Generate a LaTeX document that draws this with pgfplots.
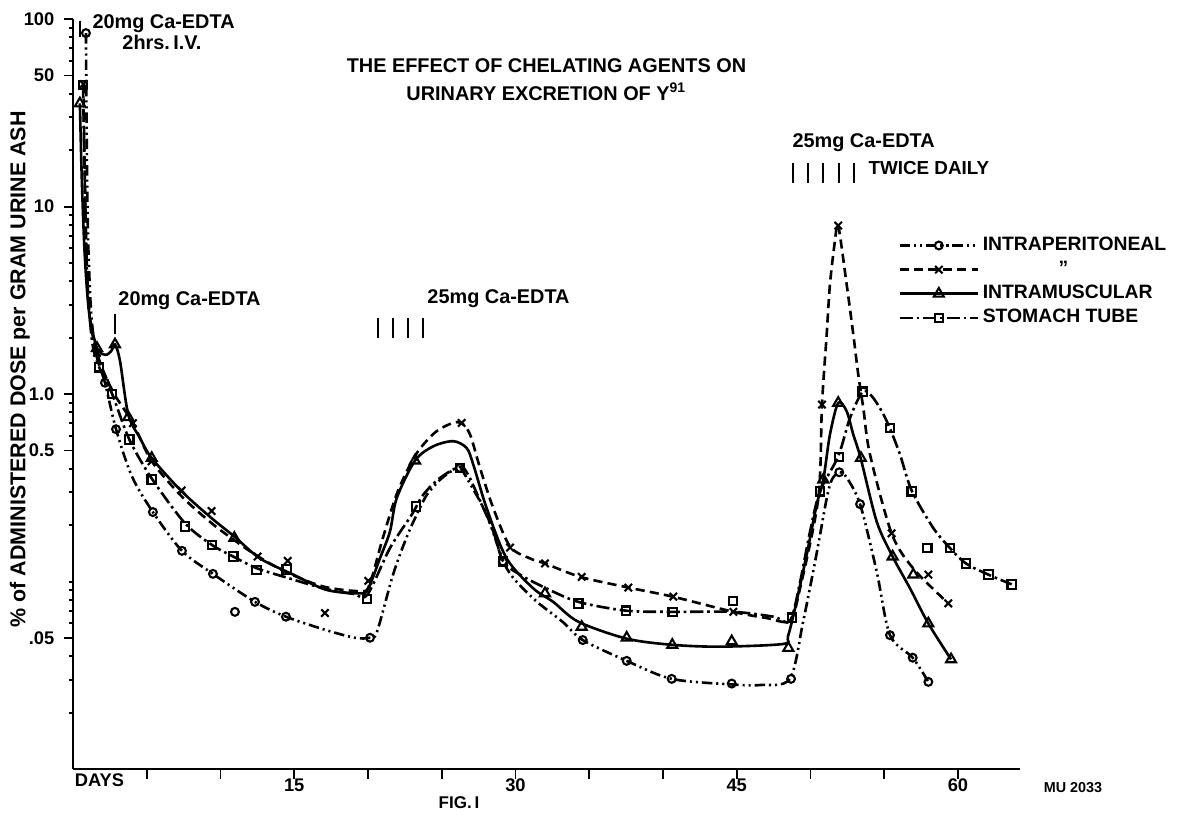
\documentclass[border=0pt]{standalone}
\usepackage{fontspec}
\setmainfont{Liberation Sans}[UprightFont=* Bold]
\usepackage{pgfplots}
\pgfplotsset{compat=1.18}

\pgfplotsset{
  ipline/.style={black, line width=1pt, dash pattern=on 4pt off 1.5pt on 0.8pt off 1.5pt on 0.8pt off 1.5pt},
  xline/.style={black, line width=1pt, dash pattern=on 3.5pt off 2pt},
  imline/.style={black, line width=1pt},
  stline/.style={black, line width=1pt, dash pattern=on 5pt off 1.5pt on 1pt off 1.5pt},
  pts/.style={black, only marks, mark options={solid, line width=0.8pt, fill=white}},
}

\begin{document}
\begin{tikzpicture}
\useasboundingbox (-27.9pt,-17.6pt) rectangle (425.6pt,294.1pt);
\begin{axis}[
  scale only axis, width=362.1pt, height=286.8pt,
  ymode=log, xmin=0, xmax=64.2, ymin=0.01, ymax=100,
  axis lines*=left, axis line style={-, line width=0.8pt},
  clip=false,
  tick align=outside, major tick length=3.6pt, minor tick length=1.6pt,
  every tick/.style={black, line width=0.7pt},
  xtick={5,10,...,60}, xticklabels={,,15,,,30,,,45,,,60},
  ytick={0.05,0.5,1,10,50,100}, yticklabels={.05,0.5,1.0,10,50,100},
  minor ytick={0.02,0.03,0.04,0.06,0.07,0.08,0.09,0.1,0.2,0.3,0.4,0.6,0.7,0.8,0.9,2,3,4,5,6,7,8,9,20,30,40,60,70,80,90},
  tick label style={font=\fontsize{7}{8}\selectfont},
  xticklabel style={yshift=3.5pt},
  legend style={at={(0.871,0.715)}, anchor=north west, draw=none, fill=none,
    inner sep=0pt, row sep=0pt, font=\fontsize{7.4}{8}\selectfont, nodes={inner sep=1.3pt}},
  legend cell align=left,
  legend image code/.code={\draw[#1, mark repeat=2, mark phase=2] plot coordinates {(0pt,0pt) (15pt,0pt) (30pt,0pt)};},
]

% legend
\addlegendimage{ipline, mark=o, mark size=1.5pt, mark options={solid, fill=white, line width=0.8pt}}
\addlegendentry{INTRAPERITONEAL}
\addlegendimage{xline, mark=x, mark size=2pt, mark options={solid, line width=0.8pt}}
\addlegendentry{\hspace*{29pt}"}
\addlegendimage{imline, mark=triangle, mark size=2.2pt, mark options={solid, fill=white, line width=0.8pt}}
\addlegendentry{INTRAMUSCULAR}
\addlegendimage{stline, mark=square, mark size=1.6pt, mark options={solid, fill=white, line width=0.8pt}}
\addlegendentry{STOMACH TUBE}

% intraperitoneal
\addplot[ipline, smooth, forget plot] coordinates {
(0.88,84.2) (0.92,30) (0.97,12) (1.05,5.8) (1.25,2.6) (1.6,1.6) (2.17,1.15) (2.92,0.65)
(4.0,0.364) (5.42,0.235) (7.39,0.146) (9.49,0.110) (12.34,0.078) (14.44,0.065) (17.08,0.0554)
(19.1,0.0502) (20.14,0.0502) (20.61,0.054) (21.7,0.109) (22.6,0.171) (23.3,0.227) (24.0,0.291)
(24.9,0.350) (25.8,0.395) (26.24,0.404) (26.7,0.357) (28.05,0.227) (29.4,0.118) (31.2,0.0814)
(33.2,0.061) (34.56,0.0488) (37.54,0.0378) (40.59,0.0303) (44.66,0.0283) (46.6,0.0281)
(48.6,0.0303) (49.5,0.0611) (50.4,0.139) (51.1,0.278) (51.46,0.351) (51.95,0.383) (52.4,0.364)
(53.36,0.259) (54.49,0.113) (55.39,0.0518) (56.93,0.0393) (57.99,0.0292)};
\addplot[pts, mark=o, mark size=1.5pt, forget plot] coordinates {
(0.88,84.2) (2.17,1.15) (2.92,0.65) (5.42,0.235) (7.39,0.146) (9.49,0.110) (10.98,0.069)
(12.34,0.078) (14.44,0.065) (20.14,0.0502) (26.24,0.404) (29.15,0.128) (34.56,0.0488)
(37.54,0.0378) (40.59,0.0303) (44.66,0.0286) (48.68,0.0303) (51.95,0.383) (53.36,0.259)
(55.39,0.0518) (56.93,0.0393) (57.99,0.0292)};

% ditto (dashed, x)
\addplot[xline, smooth, forget plot] coordinates {
(0.72,45) (0.8,14) (0.93,5) (1.15,2.5) (1.63,1.66) (2.2,1.25) (2.9,0.97) (4.07,0.70)
(5.33,0.44) (7.37,0.285) (9.4,0.205) (11.0,0.165) (12.5,0.137) (14.5,0.112) (17.0,0.094)
(19.5,0.089) (20.1,0.096) (21.0,0.17) (22.0,0.30) (23.2,0.47) (24.5,0.62) (25.7,0.70)
(26.35,0.70) (26.92,0.609) (27.6,0.403) (28.5,0.246) (29.63,0.154) (30.98,0.133) (32.0,0.125)
(34.4,0.106) (37.65,0.093) (40.7,0.083) (44.77,0.069) (47.0,0.064) (48.6,0.062) (49.29,0.092)
(50.53,0.279) (50.78,0.88) (51.1,2.09) (51.32,3.86) (51.66,6.58) (51.88,7.93) (52.45,3.86)
(52.9,2.09) (53.24,1.27) (53.58,0.845) (54.03,0.478) (55.5,0.181) (56.95,0.118) (59.34,0.0766)};
\addplot[pts, mark=x, mark size=2pt, forget plot] coordinates {
(0.72,45) (1.63,1.66) (4.07,0.70) (5.33,0.438) (7.37,0.306) (9.40,0.238) (12.52,0.136)
(14.56,0.129) (17.08,0.068) (20.02,0.101) (26.35,0.702) (29.63,0.152) (32.0,0.125)
(34.49,0.106) (37.65,0.0929) (40.7,0.0832) (44.77,0.069) (50.78,0.880) (51.88,7.93)
(55.5,0.181) (57.99,0.109) (59.34,0.0766)};

% intramuscular
\addplot[imline, smooth, forget plot] coordinates {
(0.47,35.5) (0.6,14) (0.8,5.5) (1.1,2.7) (1.63,1.76) (2.2,1.62) (2.6,1.7) (2.85,1.84)
(3.19,1.50) (3.75,0.778) (4.54,0.584) (5.34,0.456) (7.37,0.303) (9.4,0.218) (10.94,0.174)
(12.68,0.133) (14.94,0.109) (17.2,0.0903) (19.46,0.0866) (20.02,0.092) (20.81,0.133)
(21.49,0.185) (21.95,0.279) (23.19,0.442) (24.43,0.527) (25.78,0.561) (26.69,0.516)
(27.14,0.421) (28.05,0.246) (29.4,0.133) (31.21,0.092) (32.56,0.078) (34.26,0.0611)
(37.56,0.0496) (40.68,0.046) (43.86,0.045) (48.14,0.0465) (48.47,0.051) (48.95,0.0719)
(49.74,0.139) (50.42,0.257) (50.87,0.350) (51.32,0.609) (51.88,0.898) (52.45,0.811)
(52.9,0.609) (53.4,0.456) (54.49,0.209) (55.57,0.136) (56.75,0.092) (57.99,0.0598) (59.53,0.0385)};
\addplot[pts, mark=triangle, mark size=2.2pt, forget plot] coordinates {
(0.47,35.5) (1.63,1.76) (2.85,1.84) (3.75,0.753) (5.34,0.456) (10.94,0.171) (23.19,0.442)
(32.0,0.0866) (34.49,0.0574) (37.54,0.0502) (40.63,0.0460) (44.66,0.048) (48.5,0.0443)
(50.87,0.350) (51.88,0.898) (53.42,0.456) (55.57,0.136) (56.97,0.109) (57.99,0.0598) (59.53,0.0385)};

% stomach tube
\addplot[stline, smooth, forget plot] coordinates {
(0.68,44.4) (0.82,12) (0.98,4) (1.3,1.9) (1.78,1.39) (2.66,1.0) (3.82,0.573) (5.34,0.355)
(7.59,0.205) (9.42,0.157) (10.87,0.136) (12.45,0.118) (14.5,0.105) (17.0,0.092) (19.0,0.086)
(19.95,0.085) (21.49,0.151) (22.96,0.227) (23.75,0.291) (24.88,0.357) (26.24,0.410) (26.8,0.37)
(27.6,0.27) (28.5,0.185) (29.17,0.128) (30.3,0.109) (32.1,0.092) (34.26,0.078) (37.5,0.070)
(40.66,0.069) (44.77,0.069) (47.5,0.065) (48.61,0.0616) (49.3,0.1) (49.97,0.185) (50.64,0.303)
(51.88,0.466) (52.68,0.747) (53.54,1.03) (54.15,0.976) (54.83,0.811) (55.39,0.655) (56.07,0.476)
(56.86,0.306) (58.33,0.193) (59.46,0.151) (60.54,0.125) (62.06,0.109) (63.64,0.0967)};
\addplot[pts, mark=square, mark size=1.6pt, forget plot] coordinates {
(0.68,44.4) (1.78,1.39) (2.66,1.0) (3.82,0.573) (5.34,0.350) (7.59,0.197) (9.42,0.157)
(10.87,0.136) (12.45,0.115) (14.49,0.116) (19.95,0.0806) (23.25,0.252) (26.24,0.404)
(29.17,0.128) (34.26,0.0765) (37.49,0.0700) (40.66,0.0691) (44.73,0.0788) (48.73,0.0642)
(50.64,0.303) (51.93,0.461) (53.54,1.03) (55.39,0.658) (56.86,0.303) (57.92,0.151)
(59.46,0.151) (60.54,0.125) (62.06,0.109) (63.64,0.0967)};

% annotations
\draw[line width=0.8pt] (axis cs:0.47,98) -- (axis cs:0.47,80);
\node[anchor=west, inner sep=0pt, font=\fontsize{7.6}{10.7}\selectfont] at (axis cs:1.29,95) {20mg Ca-EDTA};
\node[anchor=west, inner sep=0pt, font=\fontsize{7.6}{10.7}\selectfont] at (axis cs:3.32,75.3) {2hrs.\,I.V.};
\node[align=center, inner sep=0pt, font=\fontsize{7.6}{10.7}\selectfont] at (axis cs:32.1,47.8)
  {THE EFFECT OF CHELATING AGENTS ON\\URINARY EXCRETION OF Y\textsuperscript{91}};
\draw[line width=0.8pt] (axis cs:2.85,2.68) -- (axis cs:2.85,2.09);
\node[anchor=west, inner sep=0pt, font=\fontsize{7.6}{10.7}\selectfont] at (axis cs:3.05,3.14) {20mg Ca-EDTA};
\pgfplotsinvokeforeach{20.68,21.69,22.71,23.73}{
  \draw[line width=0.8pt] (axis cs:#1,2.55) -- (axis cs:#1,1.99);
}
\node[anchor=west, inner sep=0pt, font=\fontsize{7.6}{10.7}\selectfont] at (axis cs:24.0,3.22) {25mg Ca-EDTA};
\node[anchor=west, inner sep=0pt, font=\fontsize{7.6}{10.7}\selectfont] at (axis cs:48.75,22.0) {25mg Ca-EDTA};
\pgfplotsinvokeforeach{48.8,49.85,50.87,51.95,52.95}{
  \draw[line width=0.8pt] (axis cs:#1,17.0) -- (axis cs:#1,13.4);
}
\node[anchor=west, inner sep=0pt, font=\fontsize{7.2}{9}\selectfont] at (axis cs:53.9,16.0) {TWICE DAILY};
\node[anchor=north west, inner sep=0pt, yshift=-1.5pt, font=\fontsize{7}{8}\selectfont] at (axis cs:0.1,0.01) {DAYS};
\node[inner sep=0pt, font=\fontsize{6.5}{8}\selectfont] at (axis cs:26.17,0.00666) {FIG.\,I};
\node[inner sep=0pt, font=\fontsize{5.5}{7}\selectfont] at (axis cs:67.8,0.0080) {MU 2033};
\node[rotate=90, inner sep=0pt, yshift=20.3pt, font=\fontsize{8.2}{9}\selectfont] at (rel axis cs:0,0.533)
  {\% of ADMINISTERED DOSE per GRAM URINE ASH};
\end{axis}
\end{tikzpicture}
\end{document}
